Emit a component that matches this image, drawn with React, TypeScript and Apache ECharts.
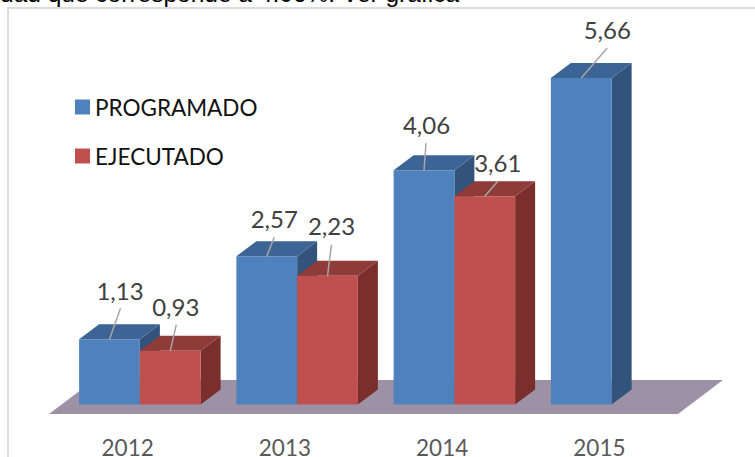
import React, { useEffect, useRef } from "react";
import * as echarts from "echarts";

const categories = ["2012", "2013", "2014", "2015"];
const programado = [1.13, 2.57, 4.06, 5.66];
const ejecutado = [0.93, 2.23, 3.61];
const introText = "dad que corresponde a 4.06%. Ver gráfica";

// layout only: leader end and label centre relative to the top of each bar
const programadoLeader = [[11, -31], [7.5, -19], [2, -27], [26, -30]];
const programadoLabel = [[10.5, -49], [7.5, -38], [2.5, -46], [26, -49]];
const ejecutadoLeader = [[6, -26], [4, -31], [13, -15]];
const ejecutadoLabel = [[5.5, -44], [4, -50], [13, -34]];

const FONT = "Lato, Carlito, sans-serif";
const DX = 20;
const DY = -15;

function barRenderer(
  offsetFrom: number,
  width: number,
  colors: { front: string; top: string; side: string },
  leaders: number[][],
  labels: number[][]
) {
  return (params: any, api: any) => {
    const i = api.value(0);
    const v = api.value(1);
    const top = api.coord([i, v]);
    const base = api.coord([i, 0]);
    const x0 = top[0] + offsetFrom;
    const x1 = x0 + width;
    const yT = top[1];
    const yB = base[1];
    const cx = (x0 + x1) / 2;
    const lead = leaders[i];
    const lab = labels[i];
    return {
      type: "group",
      children: [
        {
          type: "polygon",
          shape: { points: [[x1, yT], [x1 + DX, yT + DY], [x1 + DX, yB + DY], [x1, yB]] },
          style: { fill: colors.side },
        },
        {
          type: "polygon",
          shape: { points: [[x0, yT], [x0 + DX, yT + DY], [x1 + DX, yT + DY], [x1, yT]] },
          style: { fill: colors.top },
        },
        {
          type: "rect",
          shape: { x: x0, y: yT, width: x1 - x0, height: yB - yT },
          style: { fill: colors.front },
        },
        {
          type: "line",
          shape: { x1: cx, y1: yT, x2: cx + lead[0], y2: yT + lead[1] },
          style: { stroke: "#a6a6a6", lineWidth: 1.5 },
        },
        {
          type: "text",
          style: {
            text: String(v.toFixed(2)).replace(".", ","),
            x: cx + lab[0],
            y: yT + lab[1],
            align: "center",
            verticalAlign: "middle",
            fontFamily: FONT,
            fontSize: 24,
            fill: "#404040",
          },
        },
      ],
    };
  };
}

function floorRenderer(params: any, api: any) {
  const sys = params.coordSys;
  const front = sys.y + sys.height + 9.5;
  const back = front - 34;
  const l = sys.x;
  const r = sys.x + sys.width;
  return {
    type: "polygon",
    shape: { points: [[l, front], [l + 45, back], [r + 45, back], [r, front]] },
    style: { fill: "#9d91a5" },
  };
}

export default function App() {
  const ref = useRef<HTMLDivElement>(null);
  useEffect(() => {
    const chart = echarts.init(ref.current!, undefined, { renderer: "svg" });
    chart.setOption({
      animation: false,
      backgroundColor: "#ffffff",
      grid: { left: 49, right: 77, top: 78, bottom: 52.5, outerBoundsMode: "none" },
      legend: {
        left: 70,
        top: 90.5,
        orient: "vertical",
        icon: "rect",
        itemWidth: 15,
        itemHeight: 15,
        itemGap: 26,
        data: ["PROGRAMADO", "EJECUTADO"],
        textStyle: { fontFamily: FONT, fontSize: 22.5, color: "#111111" },
      },
      xAxis: {
        type: "category",
        data: categories,
        axisLine: { show: false },
        axisTick: { show: false },
        axisLabel: { margin: 32.5, lineHeight: 20, fontFamily: FONT, fontSize: 22.5, color: "#595959" },
      },
      yAxis: {
        type: "value",
        min: 0,
        max: 5.66,
        show: false,
        splitLine: { show: false },
      },
      graphic: [
        {
          type: "rect",
          z: 0,
          shape: { x: 8, y: 8, width: 800, height: 500 },
          style: { fill: "none", stroke: "#dcdcdc", lineWidth: 2 },
        },
        {
          type: "text",
          z: 1,
          x: 0,
          y: 6,
          style: {
            text: introText,
            fontFamily: "Liberation Sans, Arial, sans-serif",
            fontSize: 24.5,
            fill: "#000000",
            verticalAlign: "bottom",
          },
        },
      ],
      series: [
        {
          type: "custom",
          name: "floor",
          silent: true,
          z: 1,
          data: [[0, 0]],
          renderItem: floorRenderer,
          encode: { x: 0, y: 1 },
        },
        {
          type: "custom",
          name: "PROGRAMADO",
          z: 2,
          itemStyle: { color: "#4f81bd" },
          data: programado.map((v, i) => [i, v]),
          encode: { x: 0, y: 1 },
          renderItem: barRenderer(-48.5, 60.75, { front: "#4f81bd", top: "#3c6494", side: "#32547c" }, programadoLeader, programadoLabel),
        },
        {
          type: "custom",
          name: "EJECUTADO",
          z: 3,
          itemStyle: { color: "#c0504d" },
          data: ejecutado.map((v, i) => [i, v]),
          encode: { x: 0, y: 1 },
          renderItem: barRenderer(12.25, 60.75, { front: "#c0504d", top: "#8f3b39", side: "#7a2f2d" }, ejecutadoLeader, ejecutadoLabel),
        },
      ],
    });
    return () => chart.dispose();
  }, []);
  return <div ref={ref} style={{ position: "fixed", left: 0, top: 0, width: 755, height: 457 }} />;
}
